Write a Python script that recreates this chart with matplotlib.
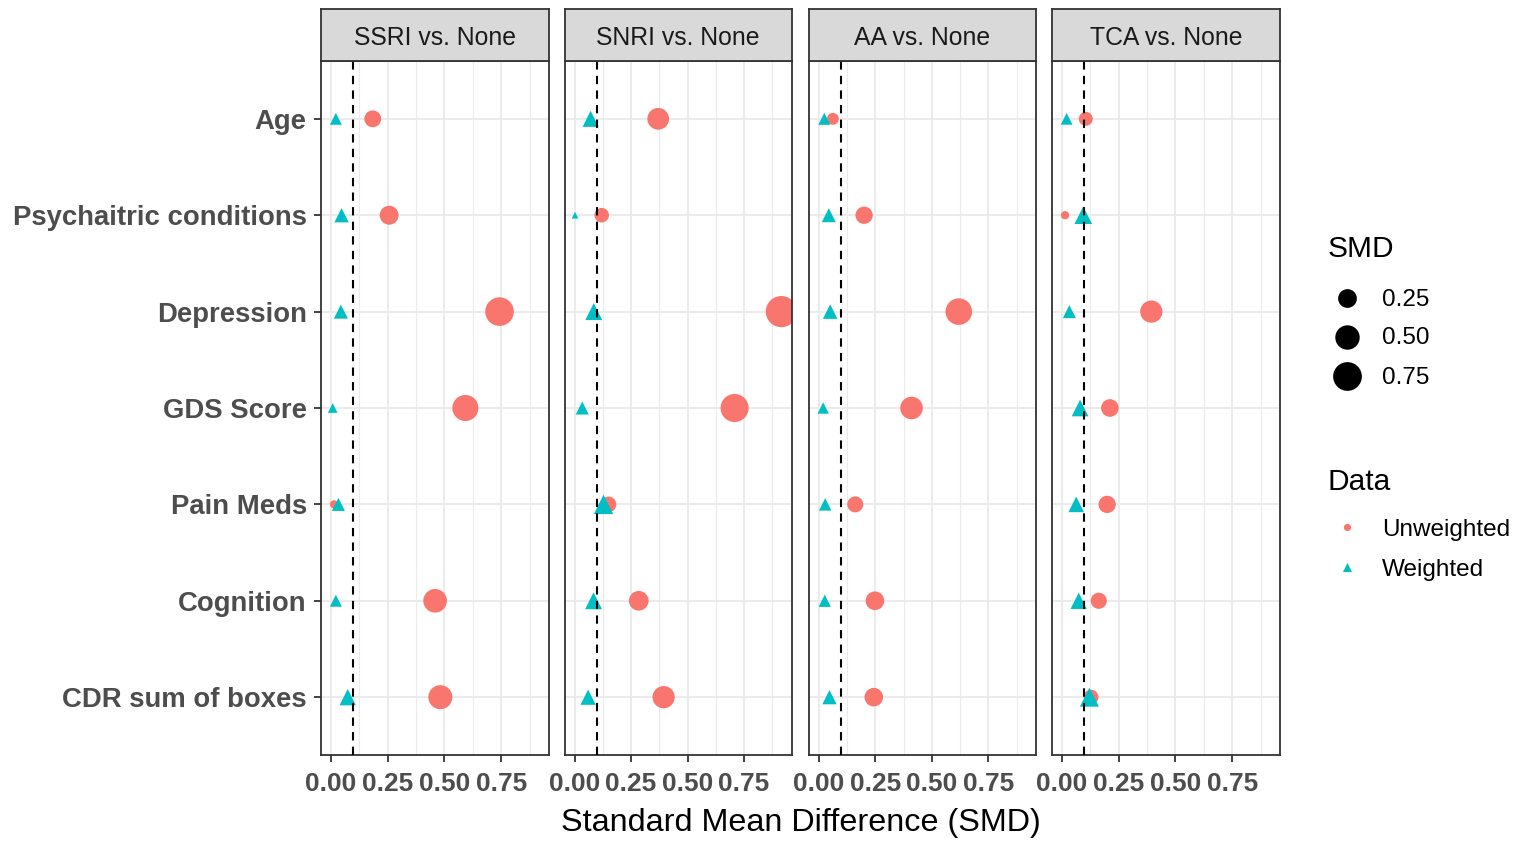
import matplotlib
matplotlib.use("Agg")
import matplotlib.pyplot as plt
import numpy as np

plt.rcParams['font.family'] = ['Liberation Sans', 'DejaVu Sans']

covariates = ['Age', 'Psychaitric conditions', 'Depression', 'GDS Score',
              'Pain Meds', 'Cognition', 'CDR sum of boxes']
comparisons = ['SSRI vs. None', 'SNRI vs. None', 'AA vs. None', 'TCA vs. None']

# SMD values, same order as covariates
ssri_unw = [0.185, 0.257, 0.742, 0.592, 0.015, 0.459, 0.482]
ssri_w = [0.023, 0.048, 0.045, 0.009, 0.034, 0.023, 0.075]
snri_unw = [0.370, 0.120, 0.915, 0.708, 0.150, 0.284, 0.394]
snri_w = [0.071, 0.002, 0.085, 0.034, 0.128, 0.084, 0.060]
aa_unw = [0.062, 0.200, 0.619, 0.410, 0.161, 0.248, 0.243]
aa_w = [0.024, 0.044, 0.050, 0.019, 0.028, 0.026, 0.047]
tca_unw = [0.106, 0.015, 0.394, 0.212, 0.200, 0.163, 0.129]
tca_w = [0.022, 0.095, 0.034, 0.081, 0.064, 0.075, 0.122]

threshold = 0.1
x_ticks = [0.0, 0.25, 0.5, 0.75]
size_breaks = [0.25, 0.50, 0.75]

unweighted = [ssri_unw, snri_unw, aa_unw, tca_unw]
weighted = [ssri_w, snri_w, aa_w, tca_w]

col_unw = '#F8766D'
col_w = '#00BFC4'

W, H = 1519, 842
DPI = 100
fig = plt.figure(figsize=(W / DPI, H / DPI), dpi=DPI)

all_vals = np.concatenate([np.array(unweighted).ravel(), np.array(weighted).ravel()])
lo, hi = all_vals.min(), all_vals.max()
span = hi - lo
xlim = (lo - 0.05 * span, hi + 0.05 * span)


def diam_pt(v):
    # ggplot-like area scale, diameter from ~5 px to ~31 px
    px = 5.2 + 26 * np.sqrt((np.asarray(v) - lo) / span)
    return px * 72 / DPI


ypos = np.arange(len(covariates), 0, -1)

panel_x = [(320.7, 549.3), (564.7, 791.7), (809, 1036), (1051.7, 1280.3)]
top, bottom, strip_top = 61, 755, 9

for i, (x0, x1) in enumerate(panel_x):
    ax = fig.add_axes([x0 / W, 1 - bottom / H, (x1 - x0) / W, (bottom - top) / H])
    ax.set_xlim(*xlim)
    ax.set_ylim(0.4, len(covariates) + 0.6)

    for xv in [0.125, 0.375, 0.625, 0.875]:
        ax.axvline(xv, color='#EBEBEB', lw=0.8, zorder=0)
    for xv in x_ticks:
        ax.axvline(xv, color='#EBEBEB', lw=1.4, zorder=0)
    for yv in ypos:
        ax.axhline(yv, color='#EBEBEB', lw=1.4, zorder=0)

    d_u = diam_pt(unweighted[i])
    d_w = diam_pt(weighted[i]) * 1.3
    ax.scatter(unweighted[i], ypos, s=d_u ** 2, marker='o', color=col_unw,
               linewidths=0, zorder=2)
    ax.scatter(weighted[i], ypos, s=d_w ** 2, marker='^', color=col_w,
               linewidths=0, zorder=3)
    ax.axvline(threshold, color='black', lw=1.5, ls=(0, (4, 3)), zorder=4)

    for sp in ax.spines.values():
        sp.set_color('#333333')
        sp.set_linewidth(1.3)
    ax.set_xticks(x_ticks)
    ax.set_xticklabels(['0.00', '0.25', '0.50', '0.75'], fontsize=19,
                       fontweight='bold', color='#4D4D4D')
    ax.tick_params(axis='x', length=5, width=1.3, color='#333333', pad=7)
    if i == 0:
        ax.set_yticks(ypos)
        ax.set_yticklabels(covariates, fontsize=19.8, fontweight='bold',
                           color='#4D4D4D')
        ax.tick_params(axis='y', length=5, width=1.3, color='#333333', pad=5)
    else:
        ax.set_yticks([])

    sax = fig.add_axes([x0 / W, 1 - top / H, (x1 - x0) / W, (top - strip_top) / H])
    sax.set_facecolor('#D9D9D9')
    sax.set_xticks([])
    sax.set_yticks([])
    for sp in sax.spines.values():
        sp.set_color('#333333')
        sp.set_linewidth(1.3)
    sax.text(0.5, 0.44, comparisons[i], ha='center', va='center',
             fontsize=17.8, color='#1A1A1A', transform=sax.transAxes)

fig.text(800.5 / W, 1 - 823 / H, 'Standard Mean Difference (SMD)',
         ha='center', va='center', fontsize=23.3, color='black')

# legends, drawn in pixel coordinates
lax = fig.add_axes([0, 0, 1, 1])
lax.set_xlim(0, W)
lax.set_ylim(H, 0)
lax.axis('off')

lax.text(1328, 249, 'SMD', ha='left', va='center', fontsize=21.5, color='black')
for k, b in enumerate(size_breaks):
    yk = 298 + k * 39
    lax.scatter([1347], [yk], s=diam_pt(b) ** 2, marker='o', color='black',
                linewidths=0)
    lax.text(1382, yk + 1.5, f'{b:.2f}', ha='left', va='center', fontsize=17.5,
             color='black')

lax.text(1328, 482, 'Data', ha='left', va='center', fontsize=21.5, color='black')
lax.scatter([1347], [527], s=5.2 ** 2, marker='o', color=col_unw, linewidths=0)
lax.text(1382, 530, 'Unweighted', ha='left', va='center', fontsize=17.5,
         color='black')
lax.scatter([1347], [567], s=6.5 ** 2, marker='^', color=col_w, linewidths=0)
lax.text(1382, 570, 'Weighted', ha='left', va='center', fontsize=17.5,
         color='black')

fig.savefig('out.png', dpi=DPI)
